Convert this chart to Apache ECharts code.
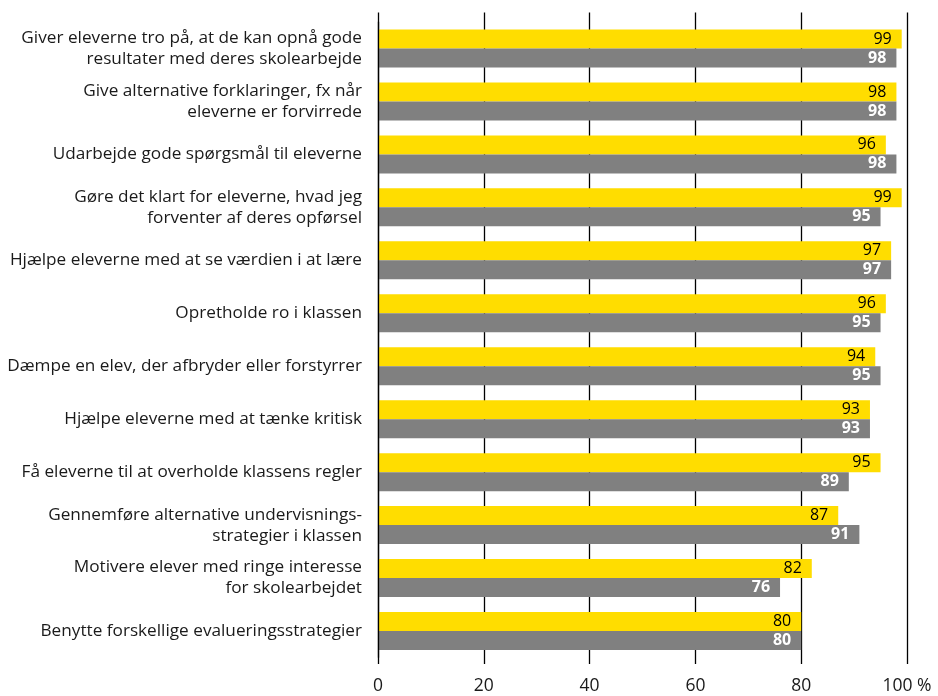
<!DOCTYPE html>
<html><head><meta charset="utf-8">
<script src="https://cdn.jsdelivr.net/npm/echarts@6/dist/echarts.min.js"></script>
<style>html,body{margin:0;padding:0;background:#fff}#c{width:938px;height:696px}</style>
</head><body><div id="c"></div>
<script>
const categories = [
  "Giver eleverne tro på, at de kan opnå gode\nresultater med deres skolearbejde",
  "Give alternative forklaringer, fx når\neleverne er forvirrede",
  "Udarbejde gode spørgsmål til eleverne",
  "Gøre det klart for eleverne, hvad jeg\nforventer af deres opførsel",
  "Hjælpe eleverne med at se værdien i at lære",
  "Opretholde ro i klassen",
  "Dæmpe en elev, der afbryder eller forstyrrer",
  "Hjælpe eleverne med at tænke kritisk",
  "Få eleverne til at overholde klassens regler",
  "Gennemføre alternative undervisnings-\nstrategier i klassen",
  "Motivere elever med ringe interesse\nfor skolearbejdet",
  "Benytte forskellige evalueringsstrategier"
];
const yellowValues = [99, 98, 96, 99, 97, 96, 94, 93, 95, 87, 82, 80];
const grayValues   = [98, 98, 98, 95, 97, 95, 95, 93, 89, 91, 76, 80];
const tickMin = 0, tickMax = 100, tickStep = 20;

const FONT = "Open Sans";
const chart = echarts.init(document.getElementById('c'), null, {renderer: 'canvas'});
chart.setOption({
  animation: false,
  grid: [
    {left: 378, right: 31, top: 22, bottom: 38.5},
    {left: 378, right: 31, top: 12.5, bottom: 32}
  ],
  xAxis: [
    {gridIndex: 0, type: 'value', min: tickMin, max: tickMax, interval: tickStep,
     axisLabel: {show: false}, axisLine: {show: false}, axisTick: {show: false}, splitLine: {show: false}},
    {gridIndex: 1, type: 'value', min: tickMin, max: tickMax, interval: tickStep,
     axisLine: {show: false}, axisTick: {show: false},
     splitLine: {show: true, lineStyle: {color: '#000', width: 1.3}},
     axisLabel: {margin: 13, color: '#1a1a1a', fontFamily: FONT, fontSize: 17.5,
       formatter: v => v === 100 ? '100 %' : String(v)}}
  ],
  yAxis: [
    {gridIndex: 0, type: 'category', data: categories, inverse: true, z: 5,
     axisLine: {show: true, lineStyle: {color: '#000', width: 1.3}}, axisTick: {show: false},
     axisLabel: {margin: 16, color: '#1a1a1a', fontFamily: FONT, fontSize: 17.2, lineHeight: 21, align: 'right'}},
    {gridIndex: 1, type: 'category', data: [], show: false}
  ],
  series: [
    {type: 'bar', xAxisIndex: 0, yAxisIndex: 0, data: yellowValues, barWidth: 19, barGap: '0%',
     itemStyle: {color: '#FFDD00'},
     label: {show: true, position: 'insideRight', distance: 10, color: '#000', fontWeight: 500, fontFamily: FONT, fontSize: 16}},
    {type: 'bar', xAxisIndex: 0, yAxisIndex: 0, data: grayValues, barWidth: 19, barGap: '0%',
     itemStyle: {color: '#808080'},
     label: {show: true, position: 'insideRight', distance: 10, color: '#fff', fontWeight: 'bold', fontFamily: FONT, fontSize: 16}}
  ]
});
</script></body></html>
